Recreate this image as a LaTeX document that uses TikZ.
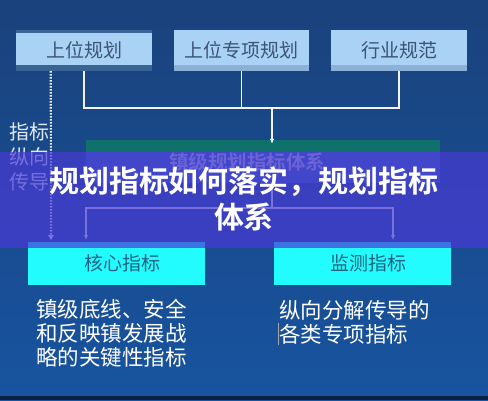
\documentclass[tikz,border=0pt]{standalone}
\usepackage{fontspec}
\setmainfont{Noto Sans CJK SC}[BoldFont={* Bold}]
\usetikzlibrary{arrows.meta}
\definecolor{bgtop}{RGB}{26,66,124}
\definecolor{bgbot}{RGB}{24,84,160}
\definecolor{bgdark}{RGB}{10,34,66}
\definecolor{boxblue}{RGB}{170,210,245}
\definecolor{boxtext}{RGB}{60,85,115}
\definecolor{stripdark}{RGB}{58,100,150}
\definecolor{striplight}{RGB}{140,176,215}
\definecolor{sysgreen}{RGB}{16,112,108}
\definecolor{sysbody}{RGB}{50,100,180}
\definecolor{systext}{RGB}{190,196,220}
\definecolor{band}{RGB}{72,58,212}
\definecolor{cyanfill}{RGB}{34,252,255}
\definecolor{cyantext}{RGB}{30,100,130}
\definecolor{linecol}{RGB}{240,244,250}
\definecolor{sidetext}{RGB}{226,234,244}
\begin{document}
\begin{tikzpicture}[x=1pt,y=-1pt,
  topbox/.style={fill=boxblue, minimum width=136pt, minimum height=41pt, inner sep=0pt, text=boxtext, font=\fontsize{19}{22}\selectfont},
  conn/.style={draw=linecol, line width=1.5pt},
  tip/.style={-{Latex[length=5pt,width=4.5pt]}},
  dotline/.style={draw=linecol, line width=2.2pt, dash pattern=on 1.5pt off 1.5pt},
  sysbox/.style={fill=sysbody, minimum width=354pt, minimum height=43pt, inner sep=0pt},
  systxt/.style={text=systext, font=\bfseries\fontsize{19.5}{22}\selectfont},
  cyanbox/.style={fill=cyanfill, minimum width=177pt, minimum height=43pt, inner sep=0pt},
  cyantxt/.style={text=cyantext, font=\fontsize{19}{22}\selectfont},
  sidetxt/.style={text=sidetext, font=\fontsize{20}{25}\selectfont, align=left, anchor=west, inner sep=0pt},
  bodytxt/.style={text=white, font=\fontsize{21.5}{23.8}\selectfont, align=left, anchor=west, inner sep=0pt},
  titletxt/.style={text=white, font=\bfseries\fontsize{30}{36}\selectfont, align=center, inner sep=0pt}
]
\useasboundingbox (0,0) rectangle (488,400);
\shade[top color=bgtop, bottom color=bgbot] (0,0) rectangle (488,400);
\fill[bgdark] (0,396) rectangle (488,400);

% top boxes
\node[topbox] (b1) at (84,50.5) {上位规划};
\node[topbox, minimum width=135pt] (b2) at (241.5,50.5) {上位专项规划};
\node[topbox] (b3) at (399,50.5) {行业规范};
\fill[stripdark] (b1.north west) rectangle ([yshift=-3pt]b1.north east);
\fill[stripdark] (b1.south west) rectangle ([yshift=6pt]b1.south east);
\fill[striplight] (b2.south west) rectangle ([yshift=6pt]b2.south east);
\fill[striplight] (b3.south west) rectangle ([yshift=6pt]b3.south east);

% system box
\node[sysbox] (sys) at (263,161.5) {};
\fill[sysgreen] (sys.north west) rectangle ([yshift=-12pt]sys.north east);
\node[systxt] (syst) at (247,162) {镇级规划指标体系};

% connectors top
\coordinate (j) at (272,108);
\draw[conn] (b1.south) |- (j);
\draw[conn] (b3.south) |- (j);
\draw[conn] (b2.south) -- (b2.south |- j);
\draw[conn, tip] (j) -- ([yshift=-4pt]j |- sys.north);

% connectors bottom
\coordinate (k) at (272,208);
\coordinate (la) at (86,240);
\coordinate (ra) at (393,240);
\draw[conn] (k |- sys.south) -- (k);
\draw[conn, tip] (k) -| (la);
\draw[conn, tip] (k) -| (ra);

% dotted side line
\coordinate (da) at (51,240);
\draw[dotline] ([xshift=35pt]b1.south west) -- ([yshift=5pt]da);
\fill[linecol] ([xshift=-3pt,yshift=5pt]da) -- ([xshift=3pt,yshift=5pt]da) -- (da) -- cycle;

% side labels
\node[sidetxt] (side) at (9,157) {指标\\纵向\\传导};

% cyan boxes
\node[cyanbox] (c1) at (116.5,263.5) {};
\node[cyanbox] (c2) at (362.5,263.5) {};
\node[cyantxt] (c1t) at ([xshift=6pt]c1.center) {核心指标};
\node[cyantxt] (c2t) at ([xshift=6pt]c2.center) {监测指标};

% overlay band
\fill[band, opacity=0.7] (0,152) rectangle (488,248);

% title
\node[titletxt] (title) at (244,199) {规划指标如何落实，规划指标\\体系};

% body text
\node[bodytxt] (l1) at (36,333.5) {镇级底线、安全\\和反映镇发展战\\略的关键性指标};
\node[bodytxt] (r1) at (279,322) {纵向分解传导的\\各类专项指标};
\draw[gray!70, line width=0.6pt] (278,323) -- (278,345);
\end{tikzpicture}
\end{document}
